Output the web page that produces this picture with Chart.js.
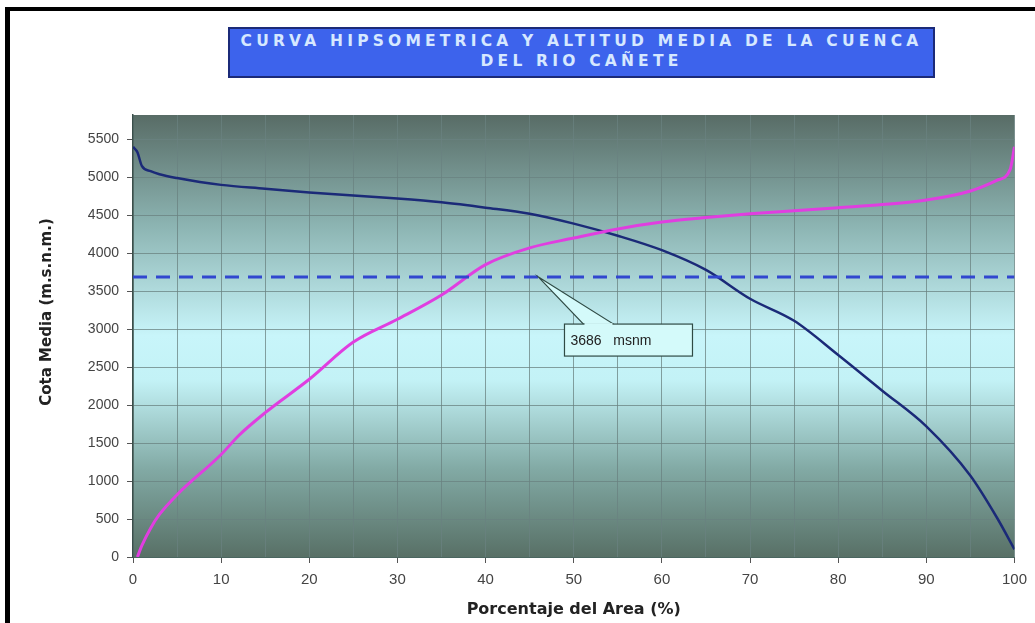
<!DOCTYPE html>
<html><head><meta charset="utf-8">
<script src="https://cdn.jsdelivr.net/npm/chart.js@4/dist/chart.umd.min.js"></script>
<style>
html,body{margin:0;padding:0;background:#fff;}
#wrap{position:relative;width:1035px;height:623px;overflow:hidden;}
#frameTop{position:absolute;left:5px;top:7px;width:1030px;height:4px;background:#000;}
#frameLeft{position:absolute;left:5px;top:7px;width:5px;height:616px;background:#000;}
#title{position:absolute;left:228px;top:27px;width:703px;height:45px;background:#3d63ec;border:2px solid #1b2a78;
 color:#d6e8ff;font-family:"DejaVu Sans",Arial,sans-serif;font-weight:bold;font-size:15.5px;letter-spacing:4.2px;
 text-align:center;line-height:20px;padding-top:2px;white-space:nowrap;}
canvas{position:absolute;left:0;top:0;}
</style></head>
<body><div id="wrap">
<canvas id="c" width="1035" height="623"></canvas>
<div id="frameTop"></div><div id="frameLeft"></div>
<div id="title">CURVA HIPSOMETRICA Y ALTITUD MEDIA DE LA CUENCA<br>DEL RIO CAÑETE</div>
</div>
<script>
const areaPct = [0, 0.5, 1, 2, 3, 5, 10, 15, 20, 25, 30, 35, 40, 45, 50, 55, 60, 65, 70, 75, 80, 85, 90, 95, 98, 100];
const cotaAbove = [5400, 5330, 5150, 5080, 5040, 4990, 4900, 4850, 4800, 4760, 4720, 4670, 4600, 4520, 4390, 4230, 4040, 3780, 3400, 3110, 2660, 2190, 1720, 1070, 520, 100];
const areaPctB = [0.5, 1, 2, 3, 5, 10, 12, 15, 20, 25, 30, 35, 40, 45, 50, 55, 60, 65, 70, 75, 80, 85, 90, 95, 98, 99.5, 100];
const cotaBelow = [0, 150, 380, 560, 820, 1350, 1600, 1900, 2340, 2830, 3130, 3450, 3850, 4070, 4200, 4320, 4410, 4470, 4520, 4560, 4600, 4640, 4700, 4820, 4960, 5100, 5400];
const meanX = [0, 100];
const meanCota = [3686, 3686];
const meanLabel = "3686   msnm";
const yTitle = "Cota Media (m.s.n.m.)";
const xTicks = [0, 10, 20, 30, 40, 50, 60, 70, 80, 90, 100];
const yTicks = [0, 500, 1000, 1500, 2000, 2500, 3000, 3500, 4000, 4500, 5000, 5500];

const toPts = (xs, ys) => xs.map((x, i) => ({x: x, y: ys[i]}));

const bgPlugin = {
  id: 'bg',
  beforeDraw(chart) {
    const {ctx, chartArea: a} = chart;
    const g = ctx.createLinearGradient(0, a.top, 0, a.bottom);
    g.addColorStop(0, 'rgb(88,108,102)');
    g.addColorStop(0.25, 'rgb(140,180,178)');
    g.addColorStop(0.5, 'rgb(200,245,250)');
    g.addColorStop(0.6, 'rgb(195,242,246)');
    g.addColorStop(0.8, 'rgb(130,170,165)');
    g.addColorStop(1, 'rgb(88,112,102)');
    ctx.save();
    ctx.fillStyle = g;
    ctx.fillRect(a.left, a.top, a.right - a.left, a.bottom - a.top);
    ctx.restore();
  },
  afterDraw(chart) {
    const ctx = chart.ctx;
    ctx.save();
    ctx.translate(47, 312);
    ctx.rotate(-Math.PI / 2);
    ctx.fillStyle = '#222';
    ctx.font = 'bold 15px "DejaVu Sans", Arial, sans-serif';
    ctx.textAlign = 'center';
    ctx.textBaseline = 'middle';
    ctx.fillText(yTitle, 0, 0);
    ctx.restore();
  }
};

const calloutPlugin = {
  id: 'callout',
  afterDatasetsDraw(chart) {
    const {ctx, scales} = chart;
    const ax = scales.x.getPixelForValue(46);
    const ay = scales.y.getPixelForValue(meanCota[0]);
    const bx = ax + 26, by = ay + 47, bw = 128, bh = 32;
    ctx.save();
    ctx.fillStyle = '#d4fafa';
    ctx.strokeStyle = '#2f4a44';
    ctx.lineWidth = 1.2;
    ctx.beginPath();
    ctx.moveTo(ax, ay);
    ctx.lineTo(ax + 75, by);
    ctx.lineTo(ax + 45, by);
    ctx.closePath();
    ctx.fill();
    ctx.stroke();
    ctx.fillRect(bx, by, bw, bh);
    ctx.strokeRect(bx, by, bw, bh);
    ctx.beginPath();
    ctx.moveTo(ax + 46, by);
    ctx.lineTo(ax + 74, by);
    ctx.strokeStyle = '#d4fafa';
    ctx.lineWidth = 2;
    ctx.stroke();
    ctx.fillStyle = '#222';
    ctx.font = '14px "Liberation Sans", Arial, sans-serif';
    ctx.textBaseline = 'middle';
    ctx.fillText(meanLabel, bx + 6, by + bh / 2 + 1);
    ctx.restore();
  }
};

new Chart(document.getElementById('c'), {
  type: 'line',
  data: {
    datasets: [
      {data: toPts(meanX, meanCota), borderColor: '#3147cf', borderWidth: 3, borderDash: [14, 9], pointRadius: 0, tension: 0},
      {data: toPts(areaPctB, cotaBelow), borderColor: '#e03ee0', borderWidth: 3, pointRadius: 0, cubicInterpolationMode: 'monotone'},
      {data: toPts(areaPct, cotaAbove), borderColor: '#1b2a78', borderWidth: 2.5, pointRadius: 0, cubicInterpolationMode: 'monotone'}
    ]
  },
  options: {
    responsive: false,
    animation: false,
    layout: {padding: {top: 115, right: 16, left: 58, bottom: 0}},
    plugins: {legend: {display: false}, tooltip: {enabled: false}},
    scales: {
      x: {
        type: 'linear', min: 0, max: 100,
        ticks: {stepSize: 5, autoSkip: false, maxRotation: 0, color: '#444',
          font: {family: '"Liberation Sans Narrow", "Liberation Sans", Arial, sans-serif', size: 15},
          padding: 8,
          callback: v => xTicks.includes(v) ? String(v) : ''},
        grid: {color: 'rgba(105,130,128,0.75)', lineWidth: 1, drawTicks: true, tickLength: 6,
          tickColor: c => (c.tick && xTicks.includes(c.tick.value)) ? '#555' : 'rgba(0,0,0,0)'},
        border: {display: true, color: '#4a6660'},
        title: {display: true, text: 'Porcentaje del Area (%)', color: '#222',
          font: {family: '"DejaVu Sans", Arial, sans-serif', size: 16, weight: 'bold'}, padding: {top: 0}},
        afterFit: s => { s.height = 66; }
      },
      y: {
        min: 0, max: 5820,
        afterBuildTicks: s => { s.ticks = yTicks.map(v => ({value: v})); },
        ticks: {color: '#444', font: {family: '"Liberation Sans", Arial, sans-serif', size: 14}, padding: 8,
          callback: v => String(v)},
        grid: {color: 'rgba(105,130,128,0.75)', lineWidth: 1, tickLength: 6, tickColor: '#555'},
        border: {display: true, color: '#3a4f4a', width: 1.5},
        title: {display: false},
        afterFit: s => { s.width = 75; }
      }
    }
  },
  plugins: [bgPlugin, calloutPlugin]
});
</script>
</body></html>
